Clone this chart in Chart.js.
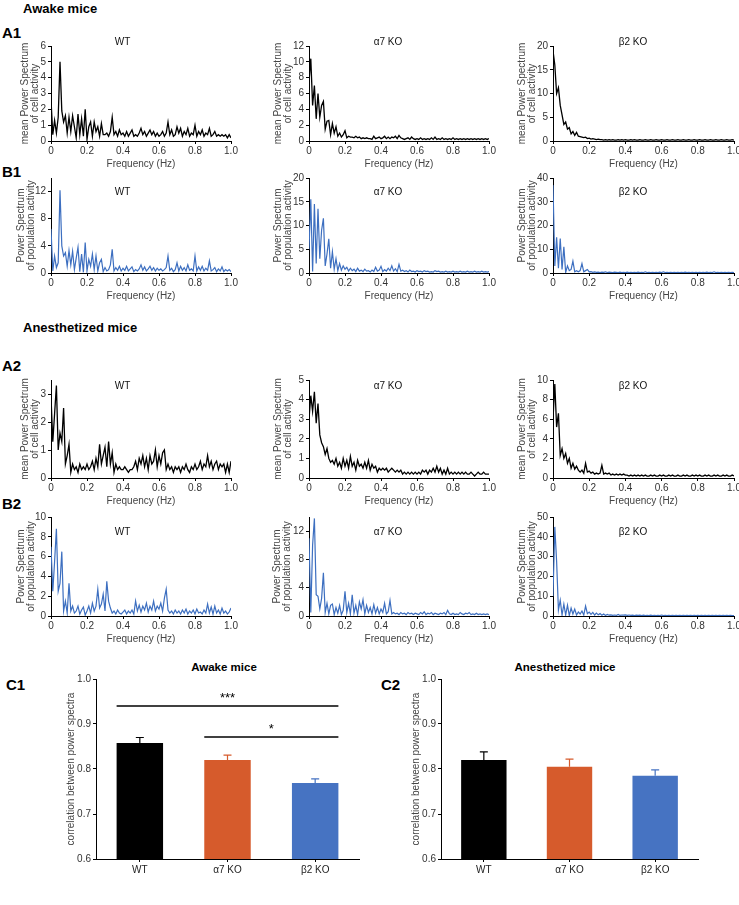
<!DOCTYPE html>
<html>
<head>
<meta charset="utf-8">
<script src="https://cdn.jsdelivr.net/npm/chart.js@4.4.1/dist/chart.umd.min.js"></script>
<style>
  body { margin: 0; background: #fff; font-family: "Liberation Sans", Arial, sans-serif; }
  #fig { position: relative; width: 739px; height: 905px; overflow: hidden; background: #fff; }
  .hd { position: absolute; font-weight: bold; color: #000; white-space: nowrap; line-height: 1; transform: translateY(-50%); }
  .big { font-size: 15px; }
  .mid { font-size: 13px; }
  .sml { font-size: 11.5px; }
  .ctr { transform: translate(-50%, -50%); }
</style>
</head>
<body>
<div id="fig">
  <div class="hd mid" style="left:23px;top:8px;">Awake mice</div>
  <div class="hd big" style="left:2px;top:32px;">A1</div>
  <div class="hd big" style="left:2px;top:171px;">B1</div>
  <div class="hd mid" style="left:23px;top:327px;">Anesthetized mice</div>
  <div class="hd big" style="left:2px;top:365px;">A2</div>
  <div class="hd big" style="left:2px;top:503px;">B2</div>
  <div class="hd sml ctr" style="left:224px;top:668px;">Awake mice</div>
  <div class="hd sml ctr" style="left:565px;top:668px;">Anesthetized mice</div>
  <div class="hd big" style="left:6px;top:684px;">C1</div>
  <div class="hd big" style="left:381px;top:684px;">C2</div>
</div>

<script>
// frequency axis (Hz)
const FREQ = [0,0.01,0.02,0.03,0.04,0.05,0.06,0.07,0.08,0.09,
  0.1,0.11,0.12,0.13,0.14,0.15,0.16,0.17,0.18,0.19,
  0.2,0.21,0.22,0.23,0.24,0.25,0.26,0.27,0.28,0.29,
  0.3,0.31,0.32,0.33,0.34,0.35,0.36,0.37,0.38,0.39,
  0.4,0.41,0.42,0.43,0.44,0.45,0.46,0.47,0.48,0.49,
  0.5,0.51,0.52,0.53,0.54,0.55,0.56,0.57,0.58,0.59,
  0.6,0.61,0.62,0.63,0.64,0.65,0.66,0.67,0.68,0.69,
  0.7,0.71,0.72,0.73,0.74,0.75,0.76,0.77,0.78,0.79,
  0.8,0.81,0.82,0.83,0.84,0.85,0.86,0.87,0.88,0.89,
  0.9,0.91,0.92,0.93,0.94,0.95,0.96,0.97,0.98,0.99,
  1.0];

// A1 - awake, mean power spectrum of cell activity
const A1_WT = [2.6,0.4,1.3,0.5,1.5,5.0,1.9,1.2,1.6,0.5,
  1.5,0.6,1.6,0.9,0.2,1.7,0.4,1.4,0.3,2.0,
  0.1,0.9,1.2,0.3,1.2,0.6,0.9,0.3,1.1,0.4,
  0.4,0.5,0.3,0.6,1.5,0.4,0.6,0.3,0.7,0.4,
  0.5,0.3,0.6,0.3,0.5,0.7,0.3,0.4,0.3,0.5,
  0.8,0.4,0.6,0.3,0.5,0.7,0.4,0.6,0.3,0.5,
  0.3,0.4,0.6,0.3,0.5,1.2,0.4,0.7,0.3,0.4,
  0.9,0.5,0.8,0.3,0.6,0.4,0.8,0.3,0.5,0.4,
  1.0,0.3,0.6,0.4,0.7,0.3,0.5,0.4,0.8,0.3,
  0.4,0.6,0.3,0.4,0.3,0.4,0.3,0.4,0.2,0.4,
  0.2];
const A1_A7 = [7.5,10.4,4.5,7.0,2.8,6.0,3.0,4.5,5.0,1.5,
  2.5,2.6,0.8,2.2,1.0,1.8,0.6,1.0,0.5,0.8,
  1.3,0.4,0.6,0.5,0.5,0.4,0.6,0.4,0.5,0.3,
  0.4,0.3,0.4,0.3,0.3,0.2,0.6,0.3,0.4,0.5,
  0.3,0.4,0.6,0.3,0.5,0.3,0.5,0.4,0.6,0.3,
  0.7,0.4,0.3,0.2,0.3,0.4,0.2,0.5,0.3,0.2,
  0.3,0.2,0.4,0.2,0.3,0.2,0.3,0.2,0.4,0.2,
  0.5,0.2,0.3,0.2,0.4,0.2,0.3,0.2,0.3,0.2,
  0.4,0.2,0.3,0.2,0.3,0.2,0.3,0.2,0.3,0.2,
  0.3,0.2,0.3,0.2,0.3,0.2,0.3,0.2,0.3,0.2,
  0.3];
const A1_B2 = [19.0,16.0,10.0,11.2,7.5,5.5,3.5,4.0,2.5,2.8,
  1.5,2.0,1.2,1.8,1.0,0.9,0.8,0.7,0.8,0.5,
  0.6,0.4,0.5,0.4,0.3,0.4,0.3,0.3,0.2,0.3,
  0.2,0.3,0.2,0.3,0.2,0.2,0.3,0.2,0.3,0.2,
  0.3,0.2,0.2,0.3,0.2,0.3,0.2,0.2,0.3,0.2,
  0.2,0.3,0.2,0.2,0.3,0.2,0.2,0.3,0.2,0.2,
  0.3,0.2,0.2,0.3,0.2,0.2,0.3,0.2,0.2,0.3,
  0.2,0.2,0.3,0.2,0.2,0.3,0.2,0.2,0.3,0.2,
  0.2,0.3,0.2,0.2,0.3,0.2,0.2,0.3,0.2,0.2,
  0.3,0.2,0.2,0.3,0.2,0.2,0.3,0.2,0.2,0.3,
  0.2];

// B1 - awake, power spectrum of population activity
const B1_WT = [6.5,0.3,2.5,0.8,1.5,12.2,4.0,2.5,3.0,1.0,
  3.3,1.2,3.2,0.5,2.2,3.8,0.2,2.8,0.1,4.5,
  0.3,2.0,1.0,2.8,0.5,2.5,0.3,1.5,2.0,0.2,
  0.8,0.3,0.5,1.2,3.5,0.3,0.8,0.4,1.0,0.3,
  0.7,0.4,1.0,0.3,0.6,0.9,0.2,0.5,0.3,0.6,
  1.2,0.4,0.9,0.3,0.6,1.0,0.4,0.8,0.3,0.7,
  0.4,0.6,0.3,0.5,0.8,2.5,0.4,0.7,0.2,0.5,
  1.5,0.3,1.0,0.4,0.8,0.3,1.2,0.4,0.6,0.3,
  2.5,0.3,0.9,0.4,1.0,0.3,0.7,0.4,1.8,0.3,
  0.5,0.8,0.2,0.6,0.3,0.9,0.2,0.5,0.3,0.5,
  0.2];
const B1_A7 = [5.0,15.5,0.3,14.5,2.0,13.5,3.0,9.0,11.5,1.5,
  4.0,7.2,1.0,4.5,0.8,3.0,0.5,2.0,0.6,1.5,
  0.8,1.2,0.4,1.0,0.5,0.8,0.3,1.0,0.4,0.6,
  0.3,0.8,0.4,0.5,0.2,0.6,0.3,1.2,0.4,0.6,
  1.4,0.3,0.7,0.4,1.0,0.5,1.5,0.4,0.9,0.3,
  1.8,0.4,0.6,0.3,0.5,0.2,0.6,0.3,0.4,0.2,
  0.5,0.3,0.4,0.2,0.5,0.3,0.4,0.2,0.3,0.2,
  0.5,0.3,0.4,0.2,0.3,0.2,0.4,0.2,0.3,0.2,
  0.4,0.2,0.3,0.2,0.4,0.2,0.3,0.2,0.4,0.2,
  0.3,0.2,0.4,0.2,0.3,0.2,0.4,0.2,0.3,0.2,
  0.3];
const B1_B2 = [37.0,3.0,15.0,2.0,14.5,1.5,11.0,0.2,3.0,1.0,
  1.5,5.0,0.5,1.0,0.5,1.0,4.0,0.5,1.0,1.5,
  0.5,0.6,0.3,0.5,0.3,0.4,0.2,0.4,0.3,0.5,
  0.2,0.4,0.3,0.2,0.4,0.3,0.2,0.4,0.2,0.3,
  0.2,0.4,0.2,0.3,0.2,0.3,0.2,0.4,0.2,0.3,
  0.2,0.5,0.2,0.3,0.2,0.3,0.2,0.3,0.2,0.4,
  0.2,0.5,0.2,0.3,0.2,0.3,0.2,0.3,0.2,0.3,
  0.2,0.3,0.2,0.4,0.2,0.3,0.2,0.3,0.2,0.3,
  0.2,0.3,0.2,0.3,0.2,0.4,0.2,0.3,0.2,0.5,
  0.2,0.3,0.2,0.3,0.2,0.3,0.2,0.3,0.2,0.3,
  0.2];

// A2 - anesthetized, mean power spectrum of cell activity
const A2_WT = [2.9,1.3,2.3,3.3,1.0,1.6,1.3,2.5,0.5,0.8,
  1.2,0.2,0.5,0.3,0.4,0.2,0.5,0.3,0.4,0.3,
  0.5,0.3,0.4,0.6,0.3,0.7,0.4,1.2,0.5,0.8,
  1.1,0.4,1.3,0.5,0.9,0.2,0.5,0.3,0.4,0.3,
  0.3,0.4,0.3,0.2,0.3,0.3,0.4,0.6,0.3,0.7,
  0.5,0.8,0.4,0.7,0.3,0.8,0.5,0.6,1.0,0.4,
  0.8,0.5,0.9,1.0,0.3,0.5,0.3,0.4,0.2,0.4,
  0.3,0.4,0.2,0.4,0.3,0.5,0.3,0.2,0.4,0.3,
  0.5,0.3,0.4,0.6,0.3,0.5,0.4,0.8,0.4,0.6,
  0.3,0.5,0.6,0.3,0.5,0.4,0.5,0.2,0.5,0.2,
  0.6];
const A2_A7 = [3.0,4.2,3.4,4.4,2.8,3.8,2.2,1.8,1.6,1.2,
  1.5,1.0,0.8,0.9,0.7,1.0,0.6,0.8,0.5,1.0,
  0.6,0.9,0.5,1.1,0.6,0.8,0.4,0.9,0.6,0.7,
  0.5,0.8,0.5,0.9,0.4,0.7,0.5,0.6,0.3,0.5,
  0.4,0.5,0.4,0.5,0.3,0.4,0.5,0.4,0.3,0.4,
  0.3,0.4,0.2,0.3,0.2,0.3,0.2,0.3,0.2,0.3,
  0.2,0.3,0.2,0.4,0.3,0.4,0.2,0.4,0.3,0.5,
  0.3,0.6,0.3,0.5,0.2,0.4,0.2,0.5,0.2,0.3,
  0.2,0.3,0.2,0.3,0.2,0.3,0.2,0.3,0.2,0.2,
  0.3,0.2,0.1,0.2,0.3,0.2,0.2,0.3,0.2,0.2,
  0.2];
const A2_B2 = [6.0,9.6,5.2,6.6,2.3,3.0,2.0,2.5,1.5,2.0,
  1.0,1.5,0.9,1.2,0.8,0.6,0.8,0.5,1.5,0.6,
  0.7,0.5,0.6,0.4,0.5,0.4,0.5,1.3,0.4,0.5,
  0.4,0.5,0.3,0.4,0.3,0.4,0.3,0.4,0.3,0.4,
  0.3,0.3,0.2,0.3,0.2,0.3,0.2,0.3,0.2,0.3,
  0.2,0.3,0.2,0.2,0.3,0.2,0.3,0.2,0.2,0.3,
  0.2,0.3,0.2,0.2,0.3,0.2,0.3,0.2,0.2,0.3,
  0.2,0.2,0.3,0.2,0.3,0.2,0.2,0.3,0.2,0.3,
  0.2,0.3,0.2,0.2,0.3,0.2,0.3,0.2,0.2,0.3,
  0.2,0.3,0.2,0.2,0.3,0.2,0.3,0.2,0.2,0.3,
  0.2];

// B2 - anesthetized, power spectrum of population activity
const B2_WT = [7.0,2.5,5.5,8.8,2.5,3.3,6.5,0.5,1.5,0.3,
  3.3,0.5,1.0,0.3,0.5,1.0,0.2,0.6,0.9,0.1,
  0.5,1.0,0.3,1.3,0.5,1.0,2.7,0.8,1.2,2.2,
  0.5,3.5,1.5,0.8,0.3,0.5,0.2,0.6,0.3,0.2,
  0.4,0.6,0.2,0.5,0.3,0.6,0.2,1.5,0.5,1.1,
  0.4,1.0,0.6,1.3,0.4,1.0,0.6,1.5,0.5,1.0,
  0.7,1.3,0.5,1.8,2.7,0.6,0.3,0.5,0.2,0.6,
  0.3,0.5,0.2,0.6,0.3,0.7,0.2,0.5,0.3,0.6,
  0.2,0.7,0.3,0.4,0.2,0.6,0.3,1.2,0.3,0.9,
  0.2,1.0,0.3,0.6,0.2,0.8,0.3,0.5,0.2,0.4,
  0.8];
const B2_A7 = [11.0,0.5,10.0,13.8,3.0,2.8,1.0,2.5,6.1,0.5,
  1.8,0.3,1.5,1.7,0.2,1.2,0.4,1.5,0.2,0.8,
  3.5,0.5,1.8,0.3,3.0,0.4,1.5,0.2,2.0,1.0,
  2.3,0.3,1.5,0.5,1.2,0.3,1.6,0.4,1.2,0.3,
  1.0,0.5,1.8,0.3,0.6,2.2,0.3,0.5,0.3,0.4,
  0.2,0.5,0.3,0.4,0.2,0.5,0.3,0.4,0.2,0.4,
  0.3,0.2,0.5,0.3,0.6,0.2,0.4,0.3,0.5,0.2,
  0.4,0.3,0.2,0.4,0.3,0.5,0.2,0.8,0.3,0.2,
  0.4,0.2,0.3,0.2,0.5,0.3,0.2,0.4,0.3,0.5,
  0.2,0.3,0.2,0.4,0.2,0.3,0.2,0.3,0.2,0.3,
  0.2];
const B2_B2 = [10.0,45.0,27.5,3.0,8.0,0.5,6.0,0.5,5.5,0.2,
  4.0,1.0,3.5,0.5,2.0,1.0,2.5,0.5,5.0,1.2,
  2.0,0.8,1.8,0.5,1.5,0.6,1.2,0.4,1.0,0.3,
  0.8,0.4,0.6,0.3,0.5,0.3,0.8,0.3,0.5,0.4,
  0.6,0.3,0.5,0.3,0.4,0.2,0.4,0.3,0.4,0.2,
  0.4,0.2,0.3,0.2,0.4,0.2,0.3,0.2,0.3,0.2,
  0.5,0.2,0.3,0.2,0.3,0.2,0.3,0.2,0.3,0.2,
  0.3,0.2,0.3,0.2,0.3,0.2,0.3,0.2,0.3,0.2,
  0.3,0.2,0.3,0.2,0.3,0.2,0.3,0.2,0.3,0.2,
  0.3,0.2,0.3,0.2,0.3,0.2,0.3,0.2,0.3,0.2,
  0.2];

// C - correlation between power spectra (mean and SEM)
const GENOTYPES = ['WT', 'α7 KO', 'β2 KO'];
const C1_MEAN = [0.858, 0.820, 0.769];
const C1_SEM = [0.012, 0.011, 0.009];
const C2_MEAN = [0.820, 0.805, 0.785];
const C2_SEM = [0.018, 0.017, 0.013];

const BLACK = '#000000';
const BLUE = '#3d6fc0';
const BAR_COLORS = ['#000000', '#d65b2c', '#4673c2'];
const CELL_LABEL = ['mean Power Spectrum', 'of cell activity'];
const POP_LABEL = ['Power Spectrum', 'of population activity'];
const FONT = '"Liberation Sans", Arial, sans-serif';

Chart.defaults.font.family = FONT;
Chart.defaults.animation = false;

const fig = document.getElementById('fig');

function makeCanvas(left, top, w, h) {
  const c = document.createElement('canvas');
  c.width = Math.round(w);
  c.height = Math.round(h);
  c.style.position = 'absolute';
  c.style.left = Math.round(left) + 'px';
  c.style.top = Math.round(top) + 'px';
  fig.appendChild(c);
  return c;
}

// small title inside each spectrum panel
const panelTitle = {
  id: 'panelTitle',
  afterDraw(chart, args, opts) {
    if (!opts.text) return;
    const { ctx, chartArea } = chart;
    ctx.save();
    ctx.font = '10px ' + FONT;
    ctx.fillStyle = '#111';
    ctx.textAlign = 'center';
    ctx.textBaseline = 'middle';
    ctx.fillText(opts.text, chartArea.left + opts.dx, chartArea.top + opts.dy);
    ctx.restore();
  }
};

// plot area positions of the spectrum grid
const COLS = [[50.5, 230.5], [309, 489], [553, 734]];
const ROWS = [[45.5, 140.5], [178, 273], [380, 477.5], [517, 615.5]];
const TITLE_DX = [71.5, 79, 80];
const TITLE_DY = [-3.5, 14, 6, 15];
const PT = 12, PR = 10, XH = 29;

function spectrum(p) {
  const [l, r] = COLS[p.col];
  const [t, b] = ROWS[p.row];
  const canvas = makeCanvas(l - p.yw, t - PT, (r - l) + p.yw + PR, PT + (b - t) + XH);
  new Chart(canvas, {
    type: 'line',
    data: {
      labels: FREQ,
      datasets: [{
        data: p.data,
        borderColor: p.color,
        borderWidth: p.color === BLACK ? 1.3 : 1.2,
        pointRadius: 0,
        tension: 0,
        fill: false
      }]
    },
    options: {
      responsive: false,
      animation: false,
      layout: { padding: { top: PT, right: PR, left: 0, bottom: 0 } },
      plugins: {
        legend: { display: false },
        tooltip: { enabled: false },
        panelTitle: { text: p.title, dx: TITLE_DX[p.col], dy: TITLE_DY[p.row] }
      },
      scales: {
        x: {
          type: 'linear',
          min: 0,
          max: 1,
          ticks: {
            stepSize: 0.2, maxRotation: 0, autoSkip: false, padding: 1,
            color: '#333', font: { size: 10 },
            callback: v => v === 0 ? '0' : v.toFixed(1)
          },
          grid: { display: true, drawOnChartArea: false, tickLength: 3, color: '#000' },
          border: { color: '#000', width: 1 },
          title: { display: true, text: 'Frequency (Hz)', color: '#444', font: { size: 10 }, padding: 0 },
          afterFit: s => { s.height = XH; }
        },
        y: {
          min: 0,
          max: p.max,
          ticks: {
            stepSize: p.step, includeBounds: false, padding: 2,
            color: '#333', font: { size: 10 }
          },
          grid: { display: true, drawOnChartArea: false, tickLength: 3, color: '#000' },
          border: { color: '#000', width: 1 },
          title: { display: true, text: p.ylab, color: '#444', font: { size: 10, lineHeight: 1 }, padding: 0 },
          afterFit: s => { s.width = p.yw; }
        }
      }
    },
    plugins: [panelTitle]
  });
}

const panels = [
  { data: A1_WT, color: BLACK, max: 6, step: 1, ylab: CELL_LABEL, col: 0, row: 0, yw: 31, title: 'WT' },
  { data: A1_A7, color: BLACK, max: 12, step: 2, ylab: CELL_LABEL, col: 1, row: 0, yw: 36, title: 'α7 KO' },
  { data: A1_B2, color: BLACK, max: 20, step: 5, ylab: CELL_LABEL, col: 2, row: 0, yw: 36, title: 'β2 KO' },
  { data: B1_WT, color: BLUE, max: 14, step: 2, ylab: POP_LABEL, col: 0, row: 1, yw: 35, title: 'WT' },
  { data: B1_A7, color: BLUE, max: 20, step: 5, ylab: POP_LABEL, col: 1, row: 1, yw: 36, title: 'α7 KO' },
  { data: B1_B2, color: BLUE, max: 40, step: 10, ylab: POP_LABEL, col: 2, row: 1, yw: 36, title: 'β2 KO' },
  { data: A2_WT, color: BLACK, max: 3.5, step: 1, ylab: CELL_LABEL, col: 0, row: 2, yw: 31, title: 'WT' },
  { data: A2_A7, color: BLACK, max: 5, step: 1, ylab: CELL_LABEL, col: 1, row: 2, yw: 36, title: 'α7 KO' },
  { data: A2_B2, color: BLACK, max: 10, step: 2, ylab: CELL_LABEL, col: 2, row: 2, yw: 36, title: 'β2 KO' },
  { data: B2_WT, color: BLUE, max: 10, step: 2, ylab: POP_LABEL, col: 0, row: 3, yw: 35, title: 'WT' },
  { data: B2_A7, color: BLUE, max: 14, step: 2, ylab: POP_LABEL, col: 1, row: 3, yw: 37, title: 'α7 KO' },
  { data: B2_B2, color: BLUE, max: 50, step: 10, ylab: POP_LABEL, col: 2, row: 3, yw: 36, title: 'β2 KO' }
];
panels.forEach(spectrum);

// error bars (upper side only) and significance brackets for the bar charts
const barExtras = {
  id: 'barExtras',
  afterDatasetsDraw(chart, args, opts) {
    const { ctx } = chart;
    const yScale = chart.scales.y;
    const bars = chart.getDatasetMeta(0).data;
    ctx.save();
    bars.forEach((bar, i) => {
      const yTop = yScale.getPixelForValue(opts.mean[i] + opts.sem[i]);
      ctx.strokeStyle = BAR_COLORS[i];
      ctx.lineWidth = 1.2;
      ctx.beginPath();
      ctx.moveTo(bar.x, bar.y);
      ctx.lineTo(bar.x, yTop);
      ctx.moveTo(bar.x - 4, yTop);
      ctx.lineTo(bar.x + 4, yTop);
      ctx.stroke();
    });
    (opts.sig || []).forEach(s => {
      const x1 = bars[s.from].x - bars[s.from].width / 2;
      const x2 = bars[s.to].x + bars[s.to].width / 2;
      const y = yScale.getPixelForValue(s.y);
      ctx.strokeStyle = '#000';
      ctx.lineWidth = 1.5;
      ctx.beginPath();
      ctx.moveTo(x1, y);
      ctx.lineTo(x2, y);
      ctx.stroke();
      ctx.fillStyle = '#000';
      ctx.font = '13px ' + FONT;
      ctx.textAlign = 'center';
      ctx.textBaseline = 'bottom';
      ctx.fillText(s.text, (x1 + x2) / 2, y - 1);
    });
    ctx.restore();
  }
};

function barPanel(mean, sem, sig, l, r, t, b) {
  const yw = 30, pt = 8, pr = 6, xh = 20;
  const canvas = makeCanvas(l - yw, t - pt, (r - l) + yw + pr, pt + (b - t) + xh);
  new Chart(canvas, {
    type: 'bar',
    data: {
      labels: GENOTYPES,
      datasets: [{
        data: mean,
        backgroundColor: BAR_COLORS,
        borderWidth: 0,
        barPercentage: 0.53,
        categoryPercentage: 1.0
      }]
    },
    options: {
      responsive: false,
      animation: false,
      layout: { padding: { top: pt, right: pr, left: 0, bottom: 0 } },
      plugins: {
        legend: { display: false },
        tooltip: { enabled: false },
        barExtras: { mean: mean, sem: sem, sig: sig }
      },
      scales: {
        x: {
          ticks: { color: '#222', font: { size: 10 }, padding: 2, maxRotation: 0 },
          grid: { display: true, drawOnChartArea: false, offset: false, tickLength: 3, color: '#000' },
          border: { color: '#000', width: 1 },
          afterFit: s => { s.height = xh; }
        },
        y: {
          min: 0.6,
          max: 1.0,
          ticks: {
            stepSize: 0.1, color: '#333', font: { size: 10 }, padding: 2,
            callback: v => v.toFixed(1)
          },
          grid: { display: true, drawOnChartArea: false, tickLength: 3, color: '#000' },
          border: { color: '#000', width: 1 },
          title: { display: true, text: 'correlation between power spectra', color: '#444', font: { size: 10, lineHeight: 1 }, padding: 0 },
          afterFit: s => { s.width = yw; }
        }
      }
    },
    plugins: [barExtras]
  });
}

barPanel(C1_MEAN, C1_SEM, [
  { from: 0, to: 2, y: 0.94, text: '***' },
  { from: 1, to: 2, y: 0.871, text: '*' }
], 96, 358.5, 679, 859);
barPanel(C2_MEAN, C2_SEM, [], 441, 698, 679, 859);
</script>
</body>
</html>
